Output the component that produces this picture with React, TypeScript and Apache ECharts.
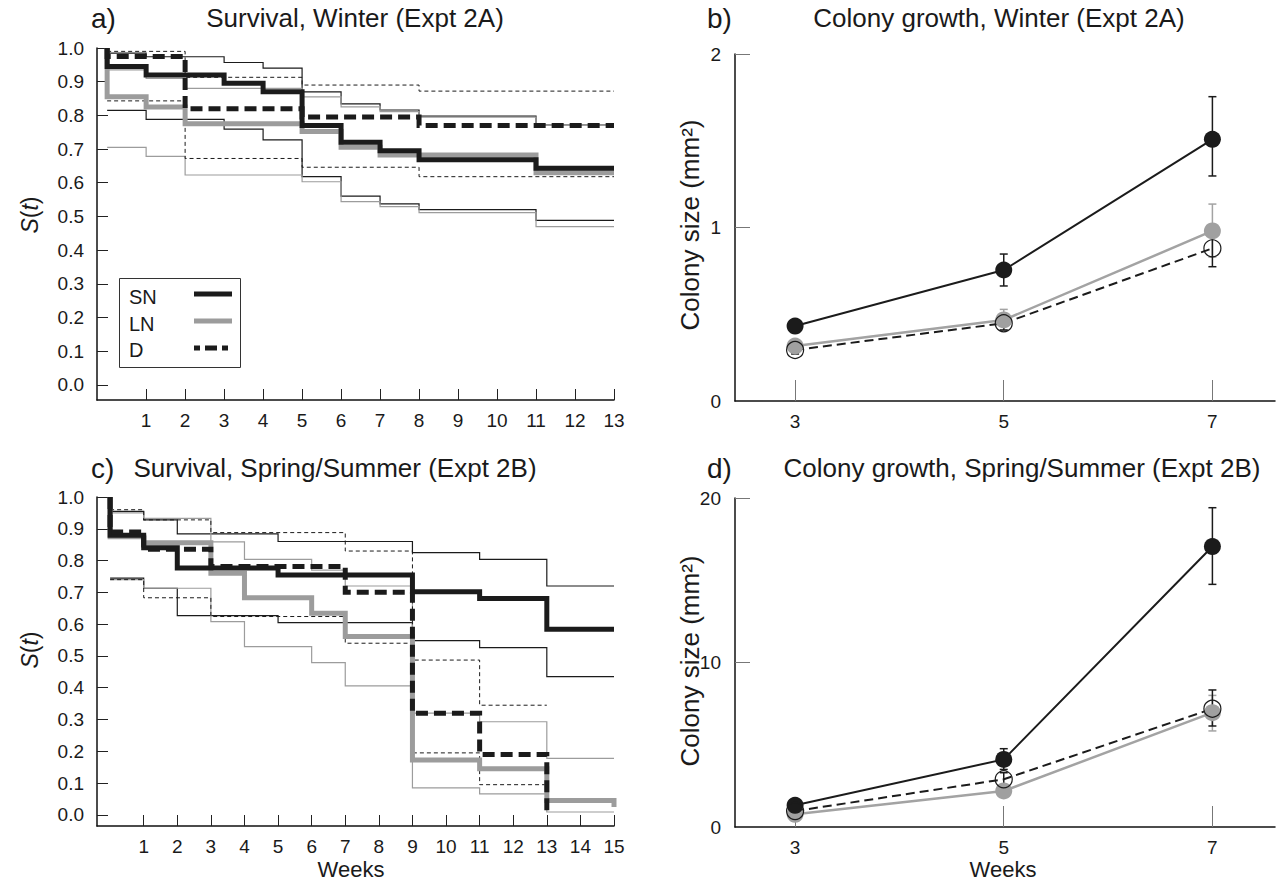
import React, { useEffect, useRef } from "react";
import * as echarts from "echarts";

const FONT = '"Liberation Sans", Arial, Helvetica, sans-serif';
const BLACK = "#1b1b1b";
const GRAY = "#9c9c9c";

// ---------- Panel a: Survival, Winter (Expt 2A) ----------
const aSNTimes = [0, 1, 3, 4, 5, 6, 7, 8, 11];
const aSN = [0.945, 0.92, 0.895, 0.87, 0.77, 0.72, 0.695, 0.668, 0.643];
const aSNHi = [0.985, 0.974, 0.957, 0.94, 0.87, 0.834, 0.816, 0.798, 0.771];
const aSNLo = [0.815, 0.788, 0.759, 0.727, 0.618, 0.56, 0.537, 0.52, 0.488];
const aLNTimes = [0, 1, 2, 5, 6, 7, 11];
const aLN = [0.855, 0.825, 0.775, 0.752, 0.705, 0.682, 0.63];
const aLNCITimes = [0, 1, 2, 5, 6, 7, 8, 11];
const aLNHi = [0.935, 0.91, 0.88, 0.855, 0.825, 0.811, 0.795, 0.77];
const aLNLo = [0.705, 0.678, 0.623, 0.603, 0.544, 0.529, 0.511, 0.47];
const aDTimes = [0, 2, 5, 8];
const aD = [0.975, 0.82, 0.795, 0.77];
const aDHi = [0.99, 0.913, 0.89, 0.872];
const aDLo = [0.843, 0.672, 0.646, 0.618];
const aEnd = 13;

// ---------- Panel c: Survival, Spring/Summer (Expt 2B) ----------
const cSNTimes = [0, 1, 2, 5, 9, 11, 13];
const cSN = [0.88, 0.84, 0.777, 0.755, 0.702, 0.681, 0.584];
const cSNHi = [0.955, 0.928, 0.884, 0.86, 0.825, 0.804, 0.72];
const cSNLo = [0.745, 0.713, 0.627, 0.605, 0.548, 0.526, 0.435];
const cLNTimes = [0, 1, 3, 4, 6, 7, 9, 11, 13, 15];
const cLN = [0.875, 0.856, 0.76, 0.683, 0.634, 0.561, 0.173, 0.145, 0.045, 0.025];
const cLNCITimes = [0, 1, 3, 4, 6, 7, 9, 11, 13];
const cLNHi = [0.95, 0.933, 0.859, 0.804, 0.77, 0.72, 0.32, 0.293, 0.178];
const cLNLo = [0.74, 0.713, 0.608, 0.529, 0.479, 0.406, 0.085, 0.066, 0.009];
const cDTimes = [0, 1, 3, 7, 9, 11, 13];
const cD = [0.89, 0.836, 0.781, 0.7, 0.32, 0.19, 0.0];
const cDCITimes = [0, 1, 3, 7, 9, 11];
const cDHi = [0.96, 0.928, 0.888, 0.83, 0.487, 0.345];
const cDLo = [0.74, 0.683, 0.624, 0.54, 0.195, 0.095];
const cEnd = 15;
const cDEnd = 13;

// ---------- Panels b, d: colony growth ----------
const growthWeeks = [3, 5, 7];
const bSN = [0.432, 0.755, 1.508];
const bSNLo = [0.4, 0.663, 1.297];
const bSNHi = [0.462, 0.847, 1.754];
const bLN = [0.317, 0.467, 0.98];
const bLNLo = [0.297, 0.41, 0.83];
const bLNHi = [0.337, 0.528, 1.135];
const bD = [0.294, 0.448, 0.88];
const bDLo = [0.271, 0.409, 0.774];
const bDHi = [0.323, 0.496, 0.986];

const dSN = [1.32, 4.11, 17.05];
const dSNLo = [1.05, 3.5, 14.75];
const dSNHi = [1.6, 4.76, 19.41];
const dLN = [0.77, 2.19, 6.95];
const dLNLo = [0.6, 1.9, 5.84];
const dLNHi = [0.95, 2.5, 8.0];
const dD = [0.97, 2.9, 7.19];
const dDLo = [0.75, 2.49, 6.14];
const dDHi = [1.2, 3.3, 8.33];

// tick labels
const aWeekTicks = [1, 2, 3, 4, 5, 6, 7, 8, 9, 10, 11, 12, 13];
const cWeekTicks = [1, 2, 3, 4, 5, 6, 7, 8, 9, 10, 11, 12, 13, 14, 15];
const survTicks = [0, 0.1, 0.2, 0.3, 0.4, 0.5, 0.6, 0.7, 0.8, 0.9, 1.0];
const bTicks = [0, 1, 2];
const dTicks = [0, 10, 20];

const TICK_FS = 19;

function km(times: number[], vals: number[], end: number, fromOne: boolean) {
  const out: number[][] = [];
  if (fromOne) out.push([0, 1]);
  times.forEach((t, i) => out.push([t, vals[i]]));
  out.push([end, vals[vals.length - 1]]);
  return out;
}

function stepSeries(idx: number, data: number[][], color: string, width: number, dash?: number[] | string) {
  return {
    type: "line",
    xAxisIndex: idx,
    yAxisIndex: idx,
    data,
    step: "end",
    showSymbol: false,
    symbol: "none",
    silent: true,
    lineStyle: { color, width, type: dash || "solid", cap: "butt", join: "miter" },
  };
}

function survX(idx: number, min: number, max: number, ticks: number[]) {
  return {
    type: "value",
    gridIndex: idx,
    min,
    max,
    axisLine: { show: true, onZero: false, lineStyle: { color: "#111", width: 1.5 } },
    axisTick: { show: true, inside: true, length: 11, customValues: ticks, lineStyle: { color: "#222", width: 1 } },
    axisLabel: { show: true, customValues: ticks, margin: 11, fontSize: TICK_FS, color: "#1a1a1a", fontFamily: FONT },
    splitLine: { show: false },
  };
}

function survY(idx: number, min: number) {
  return {
    type: "value",
    gridIndex: idx,
    min,
    max: 1,
    axisLine: { show: true, onZero: false, lineStyle: { color: "#111", width: 1.5 } },
    axisTick: { show: true, inside: true, length: 11, customValues: survTicks, lineStyle: { color: "#222", width: 1 } },
    axisLabel: {
      show: true,
      customValues: survTicks,
      margin: 13,
      fontSize: TICK_FS,
      color: "#1a1a1a",
      fontFamily: FONT,
      formatter: (v: number) => v.toFixed(1),
    },
    splitLine: { show: false },
  };
}

function growX(idx: number) {
  return {
    type: "value",
    gridIndex: idx,
    min: 2.424,
    max: 7.6,
    axisLine: { show: true, onZero: false, lineStyle: { color: "#111", width: 1.5 } },
    axisTick: { show: true, inside: true, length: 21, customValues: growthWeeks, lineStyle: { color: "#777", width: 1 } },
    axisLabel: { show: true, customValues: growthWeeks, margin: 11, fontSize: TICK_FS, color: "#1a1a1a", fontFamily: FONT },
    splitLine: { show: false },
  };
}

function growY(idx: number, max: number, ticks: number[]) {
  return {
    type: "value",
    gridIndex: idx,
    min: 0,
    max,
    axisLine: { show: true, onZero: false, lineStyle: { color: "#111", width: 1.5 } },
    axisTick: { show: true, inside: true, length: 15, customValues: ticks.slice(1), lineStyle: { color: "#777", width: 1 } },
    axisLabel: { show: true, customValues: ticks, margin: 14, fontSize: TICK_FS, color: "#1a1a1a", fontFamily: FONT },
    splitLine: { show: false },
  };
}

function errSeries(idx: number, lo: number[], hi: number[], color: string) {
  return {
    type: "custom",
    xAxisIndex: idx,
    yAxisIndex: idx,
    silent: true,
    data: growthWeeks.map((w, i) => [w, lo[i], hi[i]]),
    encode: { x: 0, y: [1, 2] },
    renderItem: (_p: any, api: any) => {
      const x = api.value(0);
      const p1 = api.coord([x, api.value(1)]);
      const p2 = api.coord([x, api.value(2)]);
      const w = 4;
      const st = { stroke: color, lineWidth: 1.5 };
      return {
        type: "group",
        children: [
          { type: "line", shape: { x1: p1[0], y1: p1[1], x2: p2[0], y2: p2[1] }, style: st },
          { type: "line", shape: { x1: p1[0] - w, y1: p1[1], x2: p1[0] + w, y2: p1[1] }, style: st },
          { type: "line", shape: { x1: p2[0] - w, y1: p2[1], x2: p2[0] + w, y2: p2[1] }, style: st },
        ],
      };
    },
  };
}

function growLine(idx: number, vals: number[], kind: "SN" | "LN" | "D") {
  const lineColor = kind === "LN" ? "#a3a3a3" : BLACK;
  return {
    type: "line",
    xAxisIndex: idx,
    yAxisIndex: idx,
    silent: true,
    data: growthWeeks.map((w, i) => [w, vals[i]]),
    symbol: "circle",
    symbolSize: 17,
    showSymbol: true,
    lineStyle: { color: lineColor, width: kind === "LN" ? 2.5 : 2, type: kind === "D" ? [9, 5] : "solid" },
    itemStyle:
      kind === "D"
        ? { color: "rgba(255,255,255,0)", borderColor: BLACK, borderWidth: 1.2 }
        : { color: kind === "LN" ? "#a0a0a0" : BLACK, borderWidth: 0 },
  };
}

function txt(x: number, y: number, text: string, size: number, align = "left", rotation = 0, extra: any = {}) {
  return {
    type: "text",
    x,
    y,
    rotation,
    silent: true,
    style: {
      text,
      fontSize: size,
      fontFamily: FONT,
      fill: "#1a1a1a",
      align,
      verticalAlign: "middle",
      ...extra,
    },
  };
}

export default function App() {
  const ref = useRef<HTMLDivElement>(null);
  useEffect(() => {
    if (!ref.current) return;
    const chart = echarts.init(ref.current, undefined, { renderer: "svg" });
    const thin = 1.2;
    const italic = { i: { fontStyle: "italic", fontSize: 23, fontFamily: FONT, fill: "#1a1a1a" } };
    const option: any = {
      animation: false,
      backgroundColor: "#ffffff",
      grid: [
        { left: 97, top: 48, width: 517, height: 352, containLabel: false, outerBoundsMode: "none" },
        { left: 735, top: 54, width: 540, height: 347, containLabel: false, outerBoundsMode: "none" },
        { left: 97, top: 497, width: 517, height: 329, containLabel: false, outerBoundsMode: "none" },
        { left: 735, top: 498, width: 540, height: 329, containLabel: false, outerBoundsMode: "none" },
      ],
      xAxis: [survX(0, -0.26, 13, aWeekTicks), growX(1), survX(2, -0.39, 15, cWeekTicks), growX(3)],
      yAxis: [survY(0, -0.045), growY(1, 2, bTicks), survY(2, -0.035), growY(3, 20, dTicks)],
      series: [
        // panel a CIs
        stepSeries(0, km(aSNTimes, aSNHi, aEnd, false), BLACK, thin),
        stepSeries(0, km(aSNTimes, aSNLo, aEnd, false), BLACK, thin),
        stepSeries(0, km(aLNCITimes, aLNHi, aEnd, false), GRAY, thin),
        stepSeries(0, km(aLNCITimes, aLNLo, aEnd, false), GRAY, thin),
        stepSeries(0, km(aDTimes, aDHi, aEnd, false), BLACK, 1, [4, 3]),
        stepSeries(0, km(aDTimes, aDLo, aEnd, false), BLACK, 1, [4, 3]),
        // panel a estimates
        stepSeries(0, km(aLNTimes, aLN, aEnd, true), GRAY, 5),
        stepSeries(0, km(aSNTimes, aSN, aEnd, true), BLACK, 5),
        stepSeries(0, km(aDTimes, aD, aEnd, true), BLACK, 5, [12, 6]),
        // panel c CIs
        stepSeries(2, km(cSNTimes, cSNHi, cEnd, false), BLACK, thin),
        stepSeries(2, km(cSNTimes, cSNLo, cEnd, false), BLACK, thin),
        stepSeries(2, km(cLNCITimes, cLNHi, cEnd, false), GRAY, thin),
        stepSeries(2, km(cLNCITimes, cLNLo, cEnd, false), GRAY, thin),
        stepSeries(2, km(cDCITimes, cDHi, cDEnd, false), BLACK, 1, [4, 3]),
        stepSeries(2, km(cDCITimes, cDLo, cDEnd, false), BLACK, 1, [4, 3]),
        // panel c estimates
        stepSeries(2, km(cLNTimes, cLN, cEnd, true), GRAY, 5),
        stepSeries(2, km(cSNTimes, cSN, cEnd, true), BLACK, 5),
        stepSeries(2, km(cDTimes, cD, cDEnd, true), BLACK, 5, [12, 6]),
        // panel b
        errSeries(1, bLNLo, bLNHi, "#a3a3a3"),
        growLine(1, bLN, "LN"),
        errSeries(1, bSNLo, bSNHi, BLACK),
        growLine(1, bSN, "SN"),
        errSeries(1, bDLo, bDHi, BLACK),
        growLine(1, bD, "D"),
        // panel d
        errSeries(3, dLNLo, dLNHi, "#a3a3a3"),
        growLine(3, dLN, "LN"),
        errSeries(3, dSNLo, dSNHi, BLACK),
        growLine(3, dSN, "SN"),
        errSeries(3, dDLo, dDHi, BLACK),
        growLine(3, dD, "D"),
      ],
      graphic: [
        // panel labels and titles
        txt(91, 18, "a)", 28),
        txt(355, 18, "Survival, Winter (Expt 2A)", 26, "center"),
        txt(707, 18, "b)", 28),
        txt(999, 18, "Colony growth, Winter (Expt 2A)", 26, "center"),
        txt(91, 468, "c)", 28),
        txt(335, 468, "Survival, Spring/Summer (Expt 2B)", 26, "center"),
        txt(707, 468, "d)", 28),
        txt(1022, 468, "Colony growth, Spring/Summer (Expt 2B)", 26, "center"),
        // axis names
        txt(30, 215, "{i|S}({i|t})", 23, "center", Math.PI / 2, { rich: italic }),
        txt(30, 650, "{i|S}({i|t})", 23, "center", Math.PI / 2, { rich: italic }),
        txt(690, 225, "Colony size (mm²)", 26, "center", Math.PI / 2),
        txt(690, 661, "Colony size (mm²)", 26, "center", Math.PI / 2),
        txt(351, 869, "Weeks", 22, "center"),
        txt(1003, 869, "Weeks", 22, "center"),
        // legend
        {
          type: "rect",
          silent: true,
          shape: { x: 119.5, y: 278.5, width: 121, height: 89 },
          style: { fill: "#fff", stroke: "#333", lineWidth: 1 },
          z: 50,
        },
        { ...txt(129, 297, "SN", 20), z: 51 },
        { ...txt(129, 324, "LN", 20), z: 51 },
        { ...txt(129, 350, "D", 20), z: 51 },
        {
          type: "line",
          silent: true,
          z: 51,
          shape: { x1: 194, y1: 294, x2: 232, y2: 294 },
          style: { stroke: BLACK, lineWidth: 5 },
        },
        {
          type: "line",
          silent: true,
          z: 51,
          shape: { x1: 194, y1: 321, x2: 232, y2: 321 },
          style: { stroke: GRAY, lineWidth: 5 },
        },
        {
          type: "line",
          silent: true,
          z: 51,
          shape: { x1: 194, y1: 348, x2: 232, y2: 348 },
          style: { stroke: BLACK, lineWidth: 5, lineDash: [6, 5, 12, 5] },
        },
      ],
    };
    chart.setOption(option);
    return () => chart.dispose();
  }, []);
  return (
    <div
      ref={ref}
      style={{ position: "fixed", left: 0, top: 0, width: 1277, height: 882, background: "#fff" }}
    />
  );
}
